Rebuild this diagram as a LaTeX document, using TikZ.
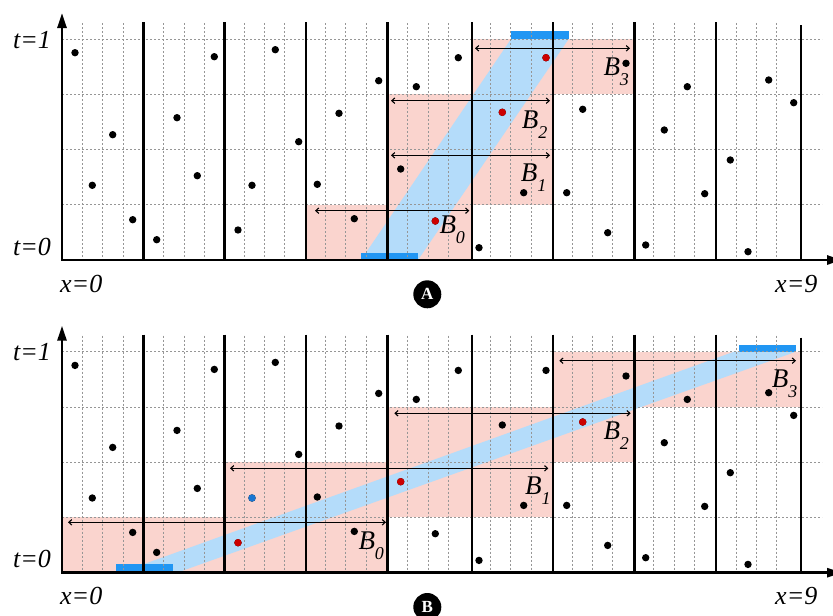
\documentclass[tikz,border=0pt]{standalone}
\usepackage{fontspec}
\setmainfont{Liberation Serif}
\usetikzlibrary{arrows.meta}
\definecolor{pinkbox}{RGB}{250,212,206}
\definecolor{bandblue}{RGB}{180,220,250}
\definecolor{barblue}{RGB}{33,150,243}
\definecolor{reddot}{RGB}{204,0,0}
\definecolor{bluedot}{RGB}{25,118,210}
\definecolor{gridgray}{RGB}{150,150,150}
\tikzset{
  pinkrect/.style={fill=pinkbox},
  bandfill/.style={fill=bandblue},
  barfill/.style={fill=barblue},
  dotgrid/.style={draw=gridgray, line width=0.9pt, dash pattern=on 2pt off 2pt},
  sepline/.style={line width=2.4pt},
  axisline/.style={line width=2.7pt, {Triangle[length=15pt,width=9pt]}-{Triangle[length=15pt,width=9pt]}},
  spanarrow/.style={line width=1.1pt, {Straight Barb[length=3pt,width=5.5pt]}-{Straight Barb[length=3pt,width=5.5pt]}},
  axlabel/.style={font=\fontsize{26}{26}\selectfont\itshape, anchor=base west, inner sep=0pt},
  blabel/.style={anchor=base west, inner sep=0pt},
  tagcircle/.style={circle, fill=black, minimum size=28pt, inner sep=0pt, text=white, font=\fontsize{17}{17}\selectfont\bfseries},
  dotblack/.style={fill=black},
  dotred/.style={fill=reddot},
  dotblue/.style={fill=bluedot},
}
\newcommand{\Blab}[1]{{\fontsize{27}{27}\selectfont\itshape B}\raisebox{-10pt}{\fontsize{18}{18}\selectfont\itshape #1}}
\def\dotlist{75/52.7, 92.3/185.3, 112.7/134.7, 132.7/219.7, 156.7/239.7, 177/117.7, 197.3/175.7, 214.3/56.7, 238/230, 252/185.3, 275.3/49.7, 298.7/141.7, 317.3/184.3, 339/113.3, 354.3/218.7, 378.7/80.7, 400.7/169, 416.3/86.7, 435.3/221, 458.3/57.7, 479/247.7, 502.3/112.3, 523.7/192.7, 546/57.7, 566.7/192.7, 582.7/109.3, 607.7/232.7, 626/63.3, 645.7/245, 664.3/130, 687.3/86.7, 704.7/193.7, 730.3/160, 748/251.7, 768.7/80, 793.7/102.7}
\newcommand{\drawgrid}[1]{%
  \foreach \gx in {82.3,102.7,123,163.6,184,204.3,244.3,264.3,284.3,325,345.7,366,407.7,428,448,490.7,510.7,531.7,572.3,592.3,612.7,653.3,674,694,736.7,756.7,776.7}
    \draw[dotgrid] (\gx,23) -- (\gx,260);
  \foreach \gy in {39,94.25,149.5,204.75}
    \draw[dotgrid] (62,\gy) -- (822,\gy);
  \foreach \sx in {143.3,224.3,306,387.3,471.7,553,634.3,715.7}
    \draw[sepline] (\sx,22) -- (\sx,260);
  \draw[sepline] (800.7,25) -- (800.7,260);
  \coordinate (o#1) at (62,260);
  \coordinate (ytip#1) at (62,13);
  \coordinate (xtip#1) at (842,260);
  \draw[axisline] (ytip#1) -- (o#1) -- (xtip#1);
  \node[axlabel] (tone#1) at (13,48) {t=1};
  \node[axlabel] (tzero#1) at (13,255) {t=0};
  \node[axlabel] (xzero#1) at (60,292) {x=0};
  \node[axlabel] (xnine#1) at (775,292) {x=9};
  \foreach \dx/\dy in \dotlist
    \fill[dotblack] (\dx,\dy) circle[radius=3.7pt];
}
\begin{document}
\begin{tikzpicture}[x=1pt,y=-1pt]
\useasboundingbox (0,0) rectangle (833,616);
% ---------------- Panel A ----------------
\begin{scope}
  \fill[pinkrect] (306,204.75) rectangle (471.7,260);
  \fill[pinkrect] (387.3,94.25) rectangle (553,204.75);
  \fill[pinkrect] (471.7,39) rectangle (634.3,94.25);
  \fill[bandfill] (361,260) -- (418,260) -- (568.7,39) -- (511,39) -- cycle;
  \fill[barfill] (360.7,253.3) rectangle (417.7,260);
  \fill[barfill] (511,31) rectangle (568.7,38.5);
  \drawgrid{A}
  \fill[dotred] (435.3,221) circle[radius=3.7pt];
  \fill[dotred] (502.3,112.3) circle[radius=3.7pt];
  \fill[dotred] (546,57.7) circle[radius=3.7pt];
  \coordinate (a0l) at (315,210.7);   \coordinate (a0r) at (469.3,210.7);
  \coordinate (a1l) at (391,155.3);   \coordinate (a1r) at (550,155.3);
  \coordinate (a2l) at (391,100.7);   \coordinate (a2r) at (550,100.7);
  \coordinate (a3l) at (475,48.3);    \coordinate (a3r) at (630,48.3);
  \draw[spanarrow] (a0l) -- (a0r);
  \draw[spanarrow] (a1l) -- (a1r);
  \draw[spanarrow] (a2l) -- (a2r);
  \draw[spanarrow] (a3l) -- (a3r);
  \node[blabel] (lA0) at (439.3,233.3) {\Blab{0}};
  \node[blabel] (lA1) at (520.7,181.7) {\Blab{1}};
  \node[blabel] (lA2) at (521.7,128.3) {\Blab{2}};
  \node[blabel] (lA3) at (603.3,75) {\Blab{3}};
  \node[tagcircle] (tagA) at (427.3,294.3) {A};
\end{scope}
% ---------------- Panel B ----------------
\begin{scope}[yshift=-312.7pt]
  \fill[pinkrect] (62,204.75) rectangle (387.3,260);
  \fill[pinkrect] (224.3,149.5) rectangle (553,204.75);
  \fill[pinkrect] (387.3,94.25) rectangle (634.3,149.5);
  \fill[pinkrect] (553,39) rectangle (800.7,94.25);
  \fill[bandfill] (120,260) -- (177,260) -- (796,39) -- (734,39) -- cycle;
  \fill[barfill] (116,251.6) rectangle (173.3,260);
  \fill[barfill] (739,32) rectangle (796,39.5);
  \drawgrid{B}
  \fill[dotred] (238,230) circle[radius=3.7pt];
  \fill[dotred] (400.7,169) circle[radius=3.7pt];
  \fill[dotred] (582.7,109.3) circle[radius=3.7pt];
  \fill[dotblue] (252,185.3) circle[radius=3.7pt];
  \coordinate (b0l) at (68,209.6);    \coordinate (b0r) at (386,209.6);
  \coordinate (b1l) at (230,155.6);   \coordinate (b1r) at (548.3,155.6);
  \coordinate (b2l) at (394.3,100.6); \coordinate (b2r) at (630.7,100.6);
  \coordinate (b3l) at (559.3,48);    \coordinate (b3r) at (796,48);
  \draw[spanarrow] (b0l) -- (b0r);
  \draw[spanarrow] (b1l) -- (b1r);
  \draw[spanarrow] (b2l) -- (b2r);
  \draw[spanarrow] (b3l) -- (b3r);
  \node[blabel] (lB0) at (358.3,236.6) {\Blab{0}};
  \node[blabel] (lB1) at (525,181.6) {\Blab{1}};
  \node[blabel] (lB2) at (603.3,126.3) {\Blab{2}};
  \node[blabel] (lB3) at (771.7,74.3) {\Blab{3}};
  \node[tagcircle] (tagB) at (427.3,294.3) {B};
\end{scope}
\end{tikzpicture}
\end{document}
